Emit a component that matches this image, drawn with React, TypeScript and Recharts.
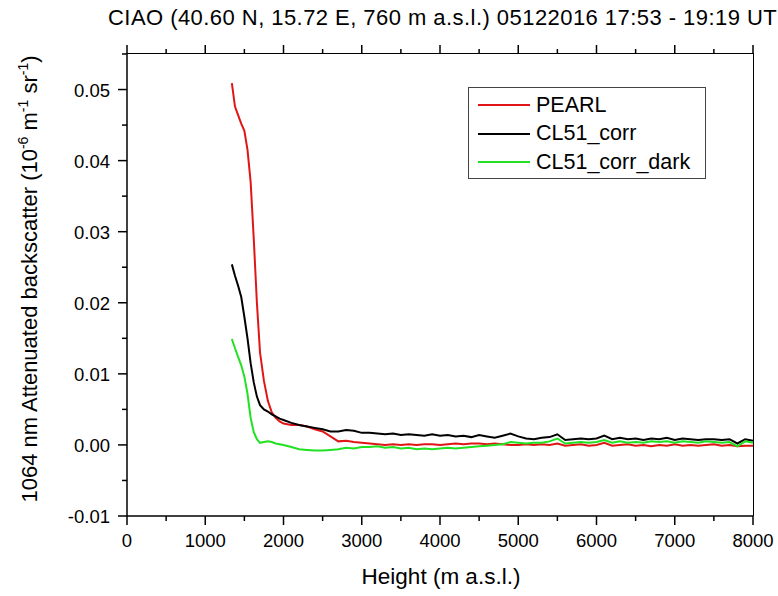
import React from 'react'
import { LineChart, Line, XAxis, YAxis, Legend, Label } from 'recharts'

const FONT = '"Liberation Sans", Arial, sans-serif'

const heights = [
  1340, 1380, 1420, 1460, 1500, 1540, 1580, 1620, 1660, 1700, 1750, 1800, 1850, 1900, 1950,
  2000, 2100, 2200, 2300, 2400, 2500, 2600, 2700, 2800, 2900,
  3000, 3100, 3200, 3300, 3400, 3500, 3600, 3700, 3800, 3900,
  4000, 4100, 4200, 4300, 4400, 4500, 4600, 4700, 4800, 4900,
  5000, 5100, 5200, 5300, 5400, 5500, 5600, 5700, 5800, 5900,
  6000, 6100, 6200, 6300, 6400, 6500, 6600, 6700, 6800, 6900,
  7000, 7100, 7200, 7300, 7400, 7500, 7600, 7700, 7800, 7900, 8000,
]

const pearl = [
  0.0509, 0.0476, 0.0464, 0.0452, 0.0442, 0.0415, 0.037, 0.029, 0.02, 0.013, 0.009, 0.0062, 0.0046, 0.0038, 0.0033,
  0.003, 0.0028, 0.0028, 0.0026, 0.0022, 0.0019, 0.0012, 0.0005, 0.0006, 0.0004,
  0.0003, 0.0002, 0.0001, 0.0, 0.0001, 0.0, 0.0001, 0.0, 0.0001, 0.0001,
  0.0, 0.0001, 0.0002, 0.0001, 0.0002, 0.0002, 0.0001, 0.0002, 0.0001, 0.0,
  0.0, 0.0001, 0.0, 0.0001, 0.0, 0.0002, -0.0001, 0.0, 0.0001, -0.0001,
  0.0, 0.0003, -0.0001, 0.0, 0.0001, -0.0001, 0.0, -0.0002, 0.0, -0.0001,
  0.0001, -0.0001, 0.0, -0.0001, 0.0, 0.0001, -0.0001, 0.0, -0.0002, -0.0001, -0.0001,
]

const cl51Corr = [
  0.0254, 0.0238, 0.0224, 0.0208, 0.018, 0.015, 0.0115, 0.0088, 0.0068, 0.0056, 0.005, 0.0047, 0.0043, 0.004, 0.0037,
  0.0035, 0.0031, 0.0028, 0.0026, 0.0024, 0.0022, 0.0019, 0.0019, 0.0021, 0.002,
  0.0017, 0.0017, 0.0016, 0.0015, 0.0016, 0.0014, 0.0015, 0.0014, 0.0013, 0.0015,
  0.0013, 0.0014, 0.0012, 0.0013, 0.0011, 0.0014, 0.0012, 0.001, 0.0013, 0.0016,
  0.0012, 0.0009, 0.0008, 0.001, 0.0011, 0.0015, 0.0007, 0.0008, 0.0009, 0.0008,
  0.0009, 0.0013, 0.0008, 0.001, 0.0008, 0.0009, 0.0007, 0.0009, 0.0008, 0.001,
  0.0007, 0.0009, 0.0008, 0.0007, 0.0008, 0.0008, 0.0007, 0.0008, 0.0002, 0.0008, 0.0006,
]

const cl51CorrDark = [
  0.0149, 0.0136, 0.0124, 0.0112, 0.0096, 0.0072, 0.0038, 0.0018, 0.0008, 0.0003, 0.0004, 0.0005, 0.0004, 0.0002, 0.0001,
  0.0, -0.0003, -0.0006, -0.0007, -0.0008, -0.0008, -0.0007, -0.0006, -0.0004, -0.0005,
  -0.0003, -0.0003, -0.0002, -0.0004, -0.0003, -0.0005, -0.0004, -0.0006, -0.0005, -0.0006,
  -0.0005, -0.0004, -0.0005, -0.0004, -0.0003, -0.0002, -0.0001, 0.0, 0.0001, 0.0004,
  0.0003, 0.0002, 0.0003, 0.0003, 0.0005, 0.0009, 0.0002, 0.0003, 0.0004, 0.0003,
  0.0004, 0.0007, 0.0003, 0.0005, 0.0003, 0.0004, 0.0003, 0.0005, 0.0004, 0.0005,
  0.0003, 0.0005, 0.0004, 0.0003, 0.0005, 0.0004, 0.0003, 0.0004, -0.0002, 0.0005, 0.0003,
]

const xTicks = [0, 500, 1000, 1500, 2000, 2500, 3000, 3500, 4000, 4500, 5000, 5500, 6000, 6500, 7000, 7500, 8000]
const yTicks = [-0.01, -0.005, 0, 0.005, 0.01, 0.015, 0.02, 0.025, 0.03, 0.035, 0.04, 0.045, 0.05, 0.055]
const X_MAX = 8000
const Y_MAX = 0.055

const seriesInfo = [
  { key: 'pearl', name: 'PEARL', color: '#e01616' },
  { key: 'corr', name: 'CL51_corr', color: '#000000' },
  { key: 'dark', name: 'CL51_corr_dark', color: '#22e022' },
]

const data = heights.map((h, i) => ({
  height: h,
  pearl: pearl[i],
  corr: cl51Corr[i],
  dark: cl51CorrDark[i],
}))

// layout
const W = 778
const H = 596
const MARGIN = { top: 54, right: 25, bottom: 0, left: 0 }
const Y_AXIS_W = 127
const X_AXIS_H = 80
const PLOT_W = W - MARGIN.left - MARGIN.right - Y_AXIS_W
const PLOT_H = H - MARGIN.top - MARGIN.bottom - X_AXIS_H

const isMajorX = (v: number) => v % 1000 === 0
const isMajorY = (v: number) => Math.round(v * 1000) % 10 === 0

// bottom ticks also draw the matching outward tick on the top frame
const BottomTick = ({ x, y, payload }: any) => {
  const major = isMajorX(payload.value)
  const len = major ? 9 : 5
  const top = y - PLOT_H
  return (
    <g>
      <line x1={x} x2={x} y1={y} y2={y + len} stroke="#000" strokeWidth={1.5} />
      <line x1={x} x2={x} y1={top} y2={top - len} stroke="#000" strokeWidth={1.5} />
      {major && (
        <text x={x} y={y + 31} textAnchor="middle" fontSize={18.5} fontFamily={FONT} fill="#000">
          {payload.value}
        </text>
      )}
    </g>
  )
}

const LeftTick = ({ x, y, payload }: any) => {
  const major = isMajorY(payload.value)
  return (
    <g>
      <line x1={x} x2={x - (major ? 9 : 5)} y1={y} y2={y} stroke="#000" strokeWidth={1.5} />
      {major && (
        <text x={x - 17} y={y + 7} textAnchor="end" fontSize={18.5} fontFamily={FONT} fill="#000">
          {payload.value.toFixed(2)}
        </text>
      )}
    </g>
  )
}

const xLabel = () => (
  <text x={441} y={584} textAnchor="middle" fontSize={22.5} fontFamily={FONT} fill="#000">
    Height (m a.s.l.)
  </text>
)

const titleLabel = () => (
  <text x={108} y={25} fontSize={22} letterSpacing={0.45} fontFamily={FONT} fill="#000">
    CIAO (40.60 N, 15.72 E, 760 m a.s.l.) 05122016 17:53 - 19:19 UT
  </text>
)

const yLabel = () => (
  <text transform="translate(37,279) rotate(-90)" textAnchor="middle" fontSize={22} fontFamily={FONT} fill="#000">
    1064 nm Attenuated backscatter (10
    <tspan dy={-9} fontSize={14}>-6</tspan>
    <tspan dy={9}> m</tspan>
    <tspan dy={-9} fontSize={14}>-1</tspan>
    <tspan dy={9}> sr</tspan>
    <tspan dy={-9} fontSize={14}>-1</tspan>
    <tspan dy={9}>)</tspan>
  </text>
)

const renderLegend = () => (
  <div
    style={{
      border: '1px solid #444',
      width: 236,
      height: 87,
      boxSizing: 'content-box',
      fontFamily: FONT,
      fontSize: 21.5,
      background: '#fff',
      paddingTop: 3,
    }}
  >
    {seriesInfo.map((s) => (
      <div key={s.key} style={{ display: 'flex', alignItems: 'center', height: 28.5 }}>
        <div style={{ width: 52, height: 2, background: s.color, marginLeft: 9, marginRight: 6 }} />
        <span style={{ color: '#000' }}>{s.name}</span>
      </div>
    ))}
  </div>
)

export default function App() {
  const plotLeft = MARGIN.left + Y_AXIS_W
  return (
    <div style={{ position: 'absolute', left: 0, top: 0, width: W, height: H, background: '#fff' }}>
      <LineChart width={W} height={H} data={data} margin={MARGIN}>
        <XAxis
          xAxisId="bottom"
          dataKey="height"
          type="number"
          domain={[0, X_MAX]}
          ticks={xTicks}
          height={X_AXIS_H}
          tickSize={0}
          tickMargin={0}
          tickLine={false}
          tick={<BottomTick />}
          axisLine={{ stroke: '#000', strokeWidth: 1.5 }}
          interval={0}
        >
          <Label content={xLabel} />
        </XAxis>
        <YAxis
          yAxisId="left"
          type="number"
          domain={[-0.01, Y_MAX]}
          ticks={yTicks}
          width={Y_AXIS_W}
          tickSize={0}
          tickMargin={0}
          tickLine={false}
          tick={<LeftTick />}
          axisLine={{ stroke: '#000', strokeWidth: 1.5 }}
          interval={0}
        >
          <Label content={yLabel} />
          <Label content={titleLabel} />
        </YAxis>
        <Legend
          layout="vertical"
          align="center"
          verticalAlign="middle"
          content={renderLegend}
          wrapperStyle={{ left: 468, top: 87, width: 238, height: 89 }}
        />
        {seriesInfo.map((s) => (
          <Line
            key={s.key}
            xAxisId="bottom"
            yAxisId="left"
            type="linear"
            dataKey={s.key}
            name={s.name}
            stroke={s.color}
            strokeWidth={2}
            dot={false}
            isAnimationActive={false}
          />
        ))}
      </LineChart>
      {/* top and right edges of the plot frame */}
      <div
        style={{
          position: 'absolute',
          left: plotLeft,
          top: MARGIN.top - 0.75,
          width: PLOT_W + 0.75,
          height: PLOT_H + 0.75,
          borderTop: '1.5px solid #000',
          borderRight: '1.5px solid #000',
          boxSizing: 'border-box',
          pointerEvents: 'none',
        }}
      />
    </div>
  )
}
